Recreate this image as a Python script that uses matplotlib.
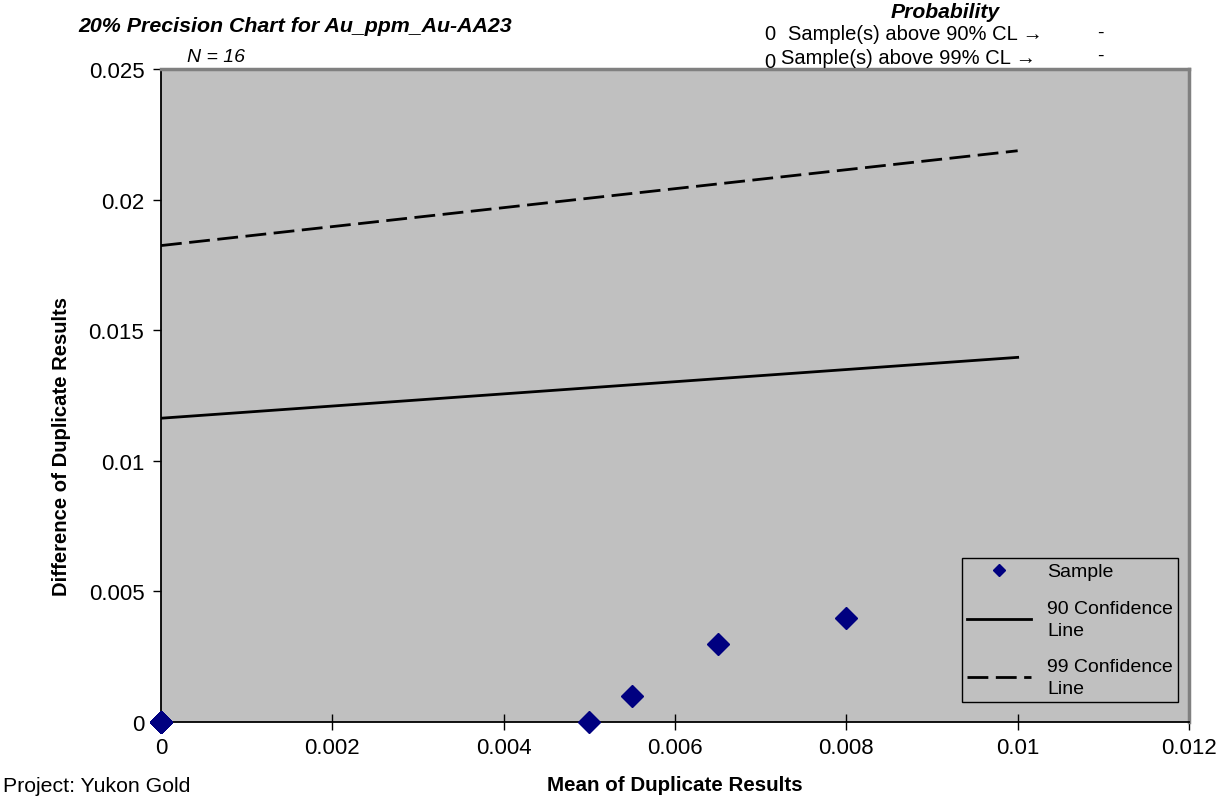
import matplotlib
matplotlib.use("Agg")
import matplotlib.pyplot as plt
from matplotlib.ticker import FixedLocator, FuncFormatter

plt.rcParams["font.family"] = ["Liberation Sans", "DejaVu Sans"]

# duplicate pairs: mean vs difference (N = 16, most pairs sit at 0,0)
sample_mean = [0, 0, 0, 0, 0, 0, 0, 0, 0, 0, 0, 0, 0.005, 0.0055, 0.0065, 0.008]
sample_diff = [0, 0, 0, 0, 0, 0, 0, 0, 0, 0, 0, 0, 0.0, 0.001, 0.003, 0.004]

# confidence lines, endpoints
cl_x = [0.0, 0.01]
cl90_y = [0.01163, 0.01396]
cl99_y = [0.01824, 0.02187]

x_ticks = [0, 0.002, 0.004, 0.006, 0.008, 0.01, 0.012]
y_ticks = [0, 0.005, 0.01, 0.015, 0.02, 0.025]

W, H = 1222, 804
fig = plt.figure(figsize=(W / 100, H / 100), dpi=100)
fig.patch.set_facecolor("white")


def fx(px):
    return px / W


def fy(py):
    return 1 - py / H


ax = fig.add_axes([fx(161), fy(723), fx(1189) - fx(161), fy(70) - fy(723)])
ax.set_facecolor("#c0c0c0")

ax.plot(cl_x, cl90_y, "-", color="black", lw=2, label="90 Confidence\nLine")
ax.plot(cl_x, cl99_y, color="black", lw=2, linestyle=(0, (7.5, 2.7)),
        label="99 Confidence\nLine")
ax.plot(sample_mean, sample_diff, "D", color="#000080", ms=11, mec="#000080",
        linestyle="none", clip_on=False, zorder=5, label="Sample")

ax.set_xlim(0, 0.012)
ax.set_ylim(0, 0.025)
ax.xaxis.set_major_locator(FixedLocator(x_ticks))
ax.yaxis.set_major_locator(FixedLocator(y_ticks))
fmt = FuncFormatter(lambda v, p: f"{v:g}")
ax.xaxis.set_major_formatter(fmt)
ax.yaxis.set_major_formatter(fmt)
ax.tick_params(axis="x", direction="inout", length=12, width=1, labelsize=16, pad=5)
ax.tick_params(axis="y", direction="out", length=6, width=1, labelsize=16, pad=6)

for side in ["left", "bottom"]:
    ax.spines[side].set_color("black")
    ax.spines[side].set_linewidth(1.3)
for side in ["top", "right"]:
    ax.spines[side].set_color("#808080")
    ax.spines[side].set_linewidth(2.5)

ax.set_xlabel("Mean of Duplicate Results", fontsize=14.8, fontweight="bold", labelpad=12)

handles, labels = ax.get_legend_handles_labels()
order = [2, 0, 1]
leg = ax.legend([handles[i] for i in order], [labels[i] for i in order],
                loc="lower right", bbox_to_anchor=(0.989, 0.0306),
                borderaxespad=0, fontsize=14, frameon=True, fancybox=False,
                framealpha=1, facecolor="#c0c0c0", edgecolor="black",
                handlelength=3.3, markerscale=0.55, labelspacing=1.0,
                borderpad=0.25)
leg.get_frame().set_linewidth(1)
for t in leg.get_texts():
    t.set_linespacing(1.38)

fig.text(fx(62), fy(447), "Difference of Duplicate Results", rotation=90,
         fontsize=14.6, fontweight="bold", ha="center", va="center")
fig.text(fx(78), fy(27), "20% Precision Chart for Au_ppm_Au-AA23", fontsize=15.4,
         fontweight="bold", fontstyle="italic", ha="left", va="center")
fig.text(fx(187), fy(57), "N = 16", fontsize=14, fontstyle="italic",
         ha="left", va="center")
fig.text(fx(945), fy(13), "Probability", fontsize=15.2, fontweight="bold",
         fontstyle="italic", ha="center", va="center")
fig.text(fx(764), fy(34), "0", fontsize=14.5, ha="left", va="center")
fig.text(fx(788), fy(34), "Sample(s) above 90% CL \u2192", fontsize=14.5,
         ha="left", va="center")
fig.text(fx(764), fy(62), "0", fontsize=14.5, ha="left", va="center")
fig.text(fx(781), fy(59), "Sample(s) above 99% CL \u2192", fontsize=14.5,
         ha="left", va="center")
fig.text(fx(1100), fy(33), "-", fontsize=14, ha="center", va="center")
fig.text(fx(1100), fy(56), "-", fontsize=14, ha="center", va="center")
fig.text(fx(3), fy(787), "Project: Yukon Gold", fontsize=15.3, ha="left", va="center")

fig.savefig("out.png", dpi=100, facecolor="white")
